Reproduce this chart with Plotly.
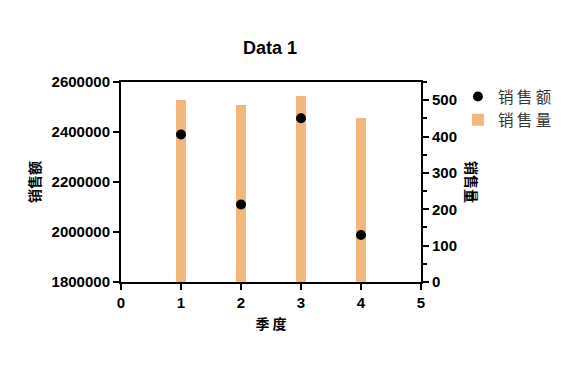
import plotly.graph_objects as go

quarters = [1, 2, 3, 4]
sales_amount = [2390000, 2110000, 2455000, 1988000]
sales_volume = [500, 486, 512, 450]
left_ticks = [1800000, 2000000, 2200000, 2400000, 2600000]
right_ticks = [0, 100, 200, 300, 400, 500]
x_ticks = [0, 1, 2, 3, 4, 5]

tickfont = dict(family="Liberation Sans", size=15, color="black", weight="bold")

fig = go.Figure()
fig.add_trace(go.Bar(
    x=quarters, y=sales_volume, name="销 售 量", yaxis="y",
    width=0.17, marker=dict(color="#F2B77B", line=dict(width=0)),
))
fig.add_trace(go.Scatter(
    x=quarters, y=sales_amount, name="销 售 额", mode="markers", yaxis="y2",
    marker=dict(color="black", size=10),
))

axis_common = dict(showgrid=False, zeroline=False, showline=True, linecolor="black",
                   linewidth=2, ticks="outside", ticklen=6, tickwidth=2,
                   tickcolor="black", tickfont=tickfont, automargin=False)

# page body has an 8px margin, so figure coordinates are page coordinates minus 8
W, H = 575, 368
L, T = 113, 74
PW, PH = 300, 200

fig.update_layout(
    width=W, height=H,
    margin=dict(l=L, r=W - L - PW, t=T, b=H - T - PH, autoexpand=False),
    plot_bgcolor="white", paper_bgcolor="white",
    title=dict(text="<b>Data 1</b>", x=262 / W, xanchor="center", y=1 - 40 / H,
               yanchor="middle", font=dict(family="Liberation Sans", size=18, color="black")),
    xaxis=dict(range=[0, 5], tickvals=x_ticks, mirror=True,
               title=dict(text="<b>季 度</b>", font=dict(family="Noto Sans CJK SC", size=14, color="black"), standoff=9),
               **axis_common),
    yaxis=dict(range=[0, 550], tickvals=right_ticks, side="right",
               minor=dict(dtick=50, ticks="outside", ticklen=4, tickwidth=2, tickcolor="black"),
               **axis_common),
    yaxis2=dict(range=[1800000, 2600000], tickvals=left_ticks, tickformat="d",
                overlaying="y", side="left",
                title=dict(text="<b>销售额</b>", font=dict(family="Noto Sans CJK SC", size=14, color="black"), standoff=8),
                **axis_common),
    showlegend=True,
    legend=dict(x=1.123, y=1.01, xanchor="left", yanchor="top", traceorder="reversed",
                font=dict(family="Noto Sans CJK SC", size=15.5, color="#333333"),
                bgcolor="rgba(0,0,0,0)", itemwidth=30),
    bargap=0,
)

fig.add_annotation(text="<b>销售量</b>", xref="paper", yref="paper",
                   x=(464 - L) / PW, y=0.5, xanchor="center", yanchor="middle",
                   textangle=90, showarrow=False,
                   font=dict(family="Noto Sans CJK SC", size=14, color="black"))

fig.write_html("out.html")
